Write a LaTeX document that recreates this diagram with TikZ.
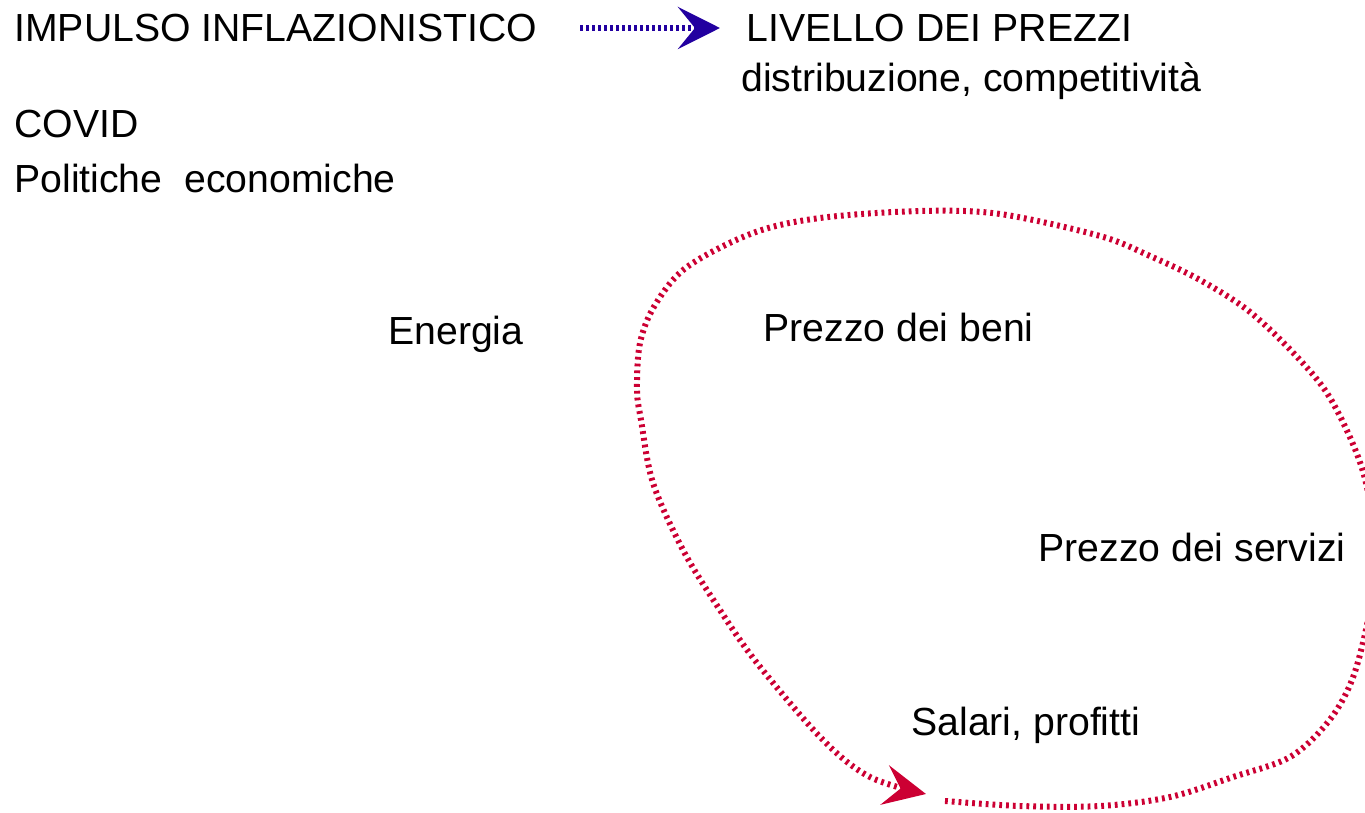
\documentclass[tikz,border=0pt]{standalone}
\usepackage{fontspec}
\setmainfont{Liberation Sans}
\usetikzlibrary{arrows.meta}
\definecolor{loopred}{RGB}{204,0,51}
\definecolor{impblue}{RGB}{34,0,160}
\tikzset{
  lbl/.style={anchor=base west, inner sep=0pt, font=\fontsize{19.6pt}{23pt}\selectfont},
  bluearrow/.style={impblue, line width=3.4pt, dash pattern=on 1.3pt off 1.7pt,
    -{Stealth[length=21pt, width=21pt, inset=8.5pt, impblue]}},
  redloop/.style={loopred, line width=3pt, dash pattern=on 1.4pt off 2pt,
    -{Stealth[length=21pt, width=20pt, inset=8pt, loopred]}}
}
\begin{document}
\begin{tikzpicture}[x=0.5pt, y=-0.5pt]
    \useasboundingbox (0,0) rectangle (1365,813);
    \node[lbl](imp) at (14,42) {IMPULSO INFLAZIONISTICO};
    \node[lbl](liv) at (746,42) {LIVELLO DEI PREZZI};
    \node[lbl](dis) at (741,92) {distribuzione, competitività};
    \node[lbl](cov) at (14,138) {COVID};
    \node[lbl](pol) at (14,192) {Politiche\ \ economiche};
    \node[lbl](ene) at (388,344) {Energia};
    \node[lbl](ben) at (763,341) {Prezzo dei beni};
    \node[lbl](ser) at (1038,561) {Prezzo dei servizi};
    \node[lbl](sal) at (911,735) {Salari, profitti};
    \coordinate (bstart) at (580,28);
    \coordinate (bend) at (720,28);
    \draw[bluearrow] (bstart) -- (bend);
    % inflation spiral
    \draw[redloop] plot[smooth, tension=0.55] coordinates {
      (945,801) (1020,806) (1100,806) (1170,797) (1233,777) (1290,757)
      (1328,722) (1352,680) (1368,620) (1376,560) (1364,475) (1333,403)
      (1300,360) (1250,312) (1200,280) (1150,256) (1100,236) (1000,214)
      (920,211) (820,218) (753,233) (687,267) (655,305) (640,343)
      (637,390) (641,420) (653,483) (683,550) (718,607) (757,663)
      (823,740) (870,777) (926,794)};
\end{tikzpicture}
\end{document}
